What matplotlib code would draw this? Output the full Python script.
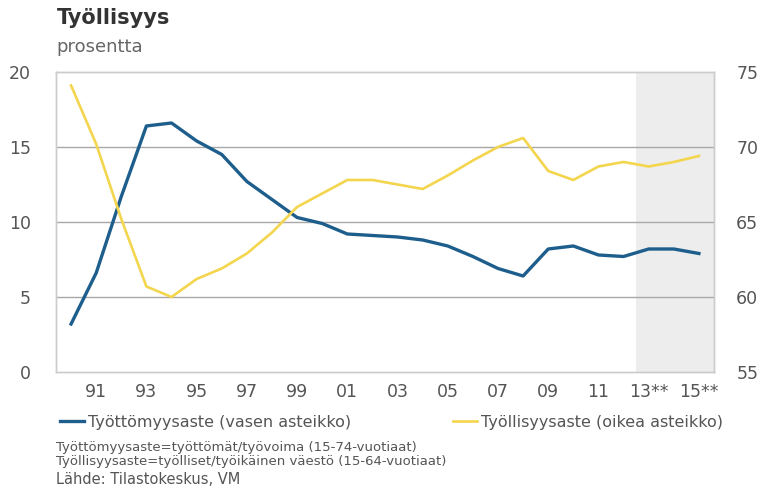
import matplotlib
matplotlib.use("Agg")
import matplotlib.pyplot as plt

years = list(range(1990, 2016))
unemployment = [3.2, 6.6, 11.7, 16.4, 16.6, 15.4, 14.5, 12.7, 11.5, 10.3,
                9.9, 9.2, 9.1, 9.0, 8.8, 8.4, 7.7, 6.9, 6.4, 8.2,
                8.4, 7.8, 7.7, 8.2, 8.2, 7.9]
employment = [74.1, 70.2, 65.2, 60.7, 60.0, 61.2, 61.9, 62.9, 64.3, 66.0,
              66.9, 67.8, 67.8, 67.5, 67.2, 68.1, 69.1, 70.0, 70.6, 68.4,
              67.8, 68.7, 69.0, 68.7, 69.0, 69.4]
tick_years = [1991, 1993, 1995, 1997, 1999, 2001, 2003, 2005, 2007, 2009, 2011, 2013, 2015]
tick_labels = ["91", "93", "95", "97", "99", "01", "03", "05", "07", "09", "11", "13**", "15**"]
forecast_start = 2012.5

BLUE = "#1d5e8c"
YELLOW = "#f3d54e"
GREY = "#555555"

fig = plt.figure(figsize=(7.66, 4.92), dpi=100)
ax = fig.add_axes([0.0731, 0.2439, 0.8590, 0.6098])
ax2 = ax.twinx()

ax.axvspan(forecast_start, 2015.6, color="#ededed", zorder=0, lw=0)
for v in [5, 10, 15]:
    ax.axhline(v, color="#a8a8a8", lw=1.0, zorder=1)

ax.plot(years, unemployment, color=BLUE, lw=2.4, zorder=3,
        label="Työttömyysaste (vasen asteikko)")
ax2.plot(years, employment, color=YELLOW, lw=1.9, zorder=3,
         label="Työllisyysaste (oikea asteikko)")

ax.set_xlim(1989.4, 2015.6)
ax.set_ylim(0, 20)
ax2.set_ylim(55, 75)
ax.set_yticks([0, 5, 10, 15, 20])
ax2.set_yticks([55, 60, 65, 70, 75])
ax.set_xticks(tick_years)
ax.set_xticklabels(tick_labels)

for a in (ax, ax2):
    a.tick_params(length=0, labelsize=12.5, labelcolor=GREY)
    for s in a.spines.values():
        s.set_color("#cccccc")
        s.set_linewidth(1.0)
ax.tick_params(axis="y", pad=18)
ax2.tick_params(axis="y", pad=16)
ax.tick_params(axis="x", pad=8)

fig.text(0.074, 0.952, "Työllisyys", fontsize=15, fontweight="bold", color="#333333")
fig.text(0.074, 0.895, "prosentta", fontsize=13, color="#666666")

# two legend entries placed separately, like in the original layout
for handles_ax, x0 in ((ax, 60 / 766), (ax2, 453 / 766)):
    h, l = handles_ax.get_legend_handles_labels()
    leg = fig.legend(h, l, loc="center left", bbox_to_anchor=(x0, 1 - 422 / 492),
                     frameon=False, fontsize=11.5, labelcolor=GREY,
                     handlelength=1.5, handletextpad=0.25,
                     borderpad=0, borderaxespad=0)

fig.text(0.073, 1 - 448 / 492, "Työttömyysaste=työttömät/työvoima (15-74-vuotiaat)",
         fontsize=9.5, color=GREY, va="center")
fig.text(0.073, 1 - 461 / 492, "Työllisyysaste=työlliset/työikäinen väestö (15-64-vuotiaat)",
         fontsize=9.5, color=GREY, va="center")
fig.text(0.073, 1 - 479 / 492, "Lähde: Tilastokeskus, VM", fontsize=10.5, color=GREY, va="center")

fig.savefig("out.png", dpi=100)
